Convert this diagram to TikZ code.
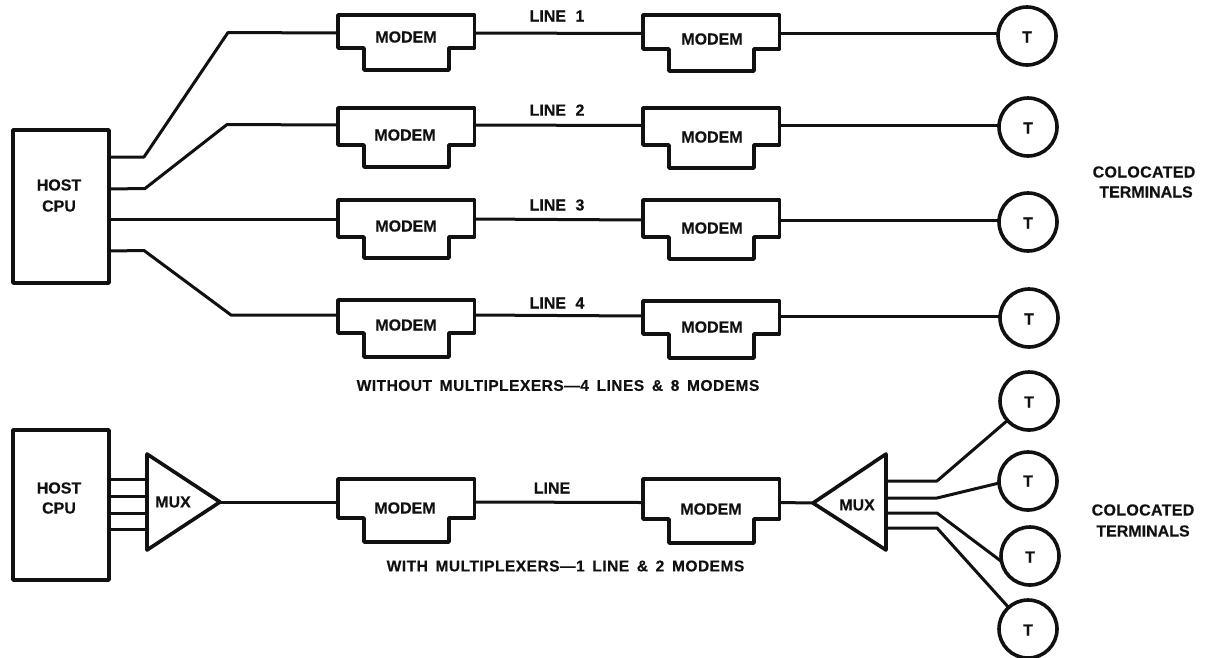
\documentclass[tikz,border=0pt]{standalone}
\usepackage{fontspec}
\setmainfont[BoldFeatures={FakeBold=0.25}]{Liberation Sans}
\newfontfamily\spacedfont[LetterSpace=3.0,WordSpace=1.6,BoldFeatures={FakeBold=0.25}]{Liberation Sans}
\usetikzlibrary{calc}
\definecolor{ink}{HTML}{111111}
\tikzset{
  ink line/.style={draw=ink,line width=3pt,line join=round,line cap=round},
  shape line/.style={draw=ink,line width=3.6pt,line join=round,line cap=round},
  lbl/.style={inner sep=0pt,outer sep=0pt,text=ink,font=\fontsize{16}{18}\selectfont\bfseries,anchor=center},
  captxt/.style={inner sep=0pt,outer sep=0pt,text=ink,font=\fontsize{15.55}{17}\selectfont\spacedfont\bfseries,anchor=center},
  term/.style={circle,shape line,minimum size=58pt,inner sep=0pt,outer sep=0pt},
  hostbox/.style={rectangle,shape line,minimum width=96pt,minimum height=#1,inner sep=0pt,outer sep=0pt},
}
% name, left x, top, shoulder, bottom, line y, text x, text y
\newcommand{\mdm}[8]{%
  \pgfmathsetmacro{\xa}{#2}\pgfmathsetmacro{\xb}{#2+26}\pgfmathsetmacro{\xc}{#2+111}\pgfmathsetmacro{\xd}{#2+136.5}%
  \draw[shape line] (\xa,#3) -- (\xd,#3) -- (\xd,#4) -- (\xc,#4) -- (\xc,#5) -- (\xb,#5) -- (\xb,#4) -- (\xa,#4) -- cycle;
  \node[lbl] (#1) at (#7,#8) {MODEM};
  \coordinate (#1-w) at (\xa,#6);
  \coordinate (#1-e) at (\xd,#6);
}
\begin{document}
\begin{tikzpicture}[x=1pt,y=-1pt]
\useasboundingbox (0,0) rectangle (1206,657);
\fill[white] (0,0) rectangle (1206,657);

% Top: host
\node[hostbox=153pt] (h1) at (61,206.5) {};
\node[lbl] (h1a) at (59,185) {HOST};
\node[lbl] (h1b) at (59,206) {CPU};

% Top: modems
\mdm{a1}{338}{15}{48}{70}{33}{406}{37}
\mdm{a2}{338}{108}{145}{167}{125}{405}{135}
\mdm{a3}{338}{200}{237}{258}{219}{406}{226}
\mdm{a4}{338}{300}{333}{357}{315}{406}{325}
\mdm{b1}{643}{15}{49}{71}{33.5}{712}{39}
\mdm{b2}{643}{108}{145}{168}{125.5}{712}{137}
\mdm{b3}{643}{200}{237}{259}{220}{712}{228}
\mdm{b4}{643}{301}{334}{358}{316}{712}{327}

% Top: terminals
\node[term] (t1) at (1027,36) {};  \node[lbl] at (1027,37) {T};
\node[term] (t2) at (1028,127) {}; \node[lbl] at (1028,128) {T};
\node[term] (t3) at (1028,222) {}; \node[lbl] at (1028,223) {T};
\node[term] (t4) at (1029,318) {}; \node[lbl] at (1029,319) {T};

% Top: connectors
\draw[ink line] (h1.east |- 0,157) -- (144,157) -- (228,32.5) -- (a1-w);
\draw[ink line] (h1.east |- 0,189) -- (145,188.5) -- (227,124.5) -- (a2-w);
\draw[ink line] (h1.east |- 0,219) -- (a3-w);
\draw[ink line] (h1.east |- 0,251) -- (144,250.5) -- (231,315) -- (a4-w);
\draw[ink line] (a1-e) -- (b1-w);
\draw[ink line] (a2-e) -- (b2-w);
\draw[ink line] (a3-e) -- (b3-w);
\draw[ink line] (a4-e) -- (b4-w);
\draw[ink line] (b1-e) -- (t1.west |- b1-e);
\draw[ink line] (b2-e) -- (t2.west |- b2-e);
\draw[ink line] (b3-e) -- (t3.west |- b3-e);
\draw[ink line] (b4-e) -- (t4.west |- b4-e);

% Top: labels
\node[lbl] (l1) at (557,16) {LINE\hspace{5pt} 1};
\node[lbl] (l2) at (557,110) {LINE\hspace{5pt} 2};
\node[lbl] (l3) at (557,205) {LINE\hspace{5pt} 3};
\node[lbl] (l4) at (557,303) {LINE\hspace{5pt} 4};
\node[captxt] (c1) at (558,385.5) {WITHOUT MULTIPLEXERS—4 LINES \& 8 MODEMS};
\node[lbl] (k1) at (1144,172) {\addfontfeature{LetterSpace=2}COLOCATED};
\node[lbl] (k2) at (1146,192) {TERMINALS};

% Bottom: host and mux
\node[hostbox=150pt] (h2) at (61,505) {};
\node[lbl] (h2a) at (59,488) {HOST};
\node[lbl] (h2b) at (59,508) {CPU};
\draw[shape line] (147,454) -- (147,550) -- (220,502) -- cycle;
\node[lbl] (mx1) at (173,502) {MUX};
\coordinate (mx1-w) at (147,502);
\coordinate (mx1-e) at (220,502);

\mdm{a5}{338}{479}{518}{542}{502}{405}{508}
\mdm{b5}{643}{479}{519}{543}{502.5}{711}{509}

\draw[shape line] (886,454) -- (886,550) -- (813,503) -- cycle;
\node[lbl] (mx2) at (857,505) {MUX};
\coordinate (mx2-w) at (813,503);
\coordinate (mx2-e) at (886,503);

\node[term] (t5) at (1029,401) {}; \node[lbl] at (1029,402) {T};
\node[term] (t6) at (1028,481) {}; \node[lbl] at (1028,481) {T};
\node[term] (t7) at (1030,556) {}; \node[lbl] at (1030,557) {T};
\node[term] (t8) at (1028,629) {}; \node[lbl] at (1028,630) {T};

% Bottom: connectors
\foreach \yy in {479,496,513,529} \draw[ink line] (h2.east |- 0,\yy) -- (mx1-w |- 0,\yy);
\draw[ink line] (mx1-e) -- (a5-w);
\draw[ink line] (a5-e) -- (b5-w);
\draw[ink line] (b5-e) -- (mx2-w);
\draw[ink line] (mx2-e |- 0,481) -- (937,481) -- (t5.222);
\draw[ink line] (mx2-e |- 0,498) -- (937,498) -- (t6.184);
\draw[ink line] (mx2-e |- 0,513) -- (937,513) -- (t7.191);
\draw[ink line] (mx2-e |- 0,528) -- (937,528) -- (t8.132);

% Bottom: labels
\node[lbl] (l5) at (552,488) {LINE};
\node[captxt] (c2) at (565.5,566) {WITH MULTIPLEXERS—1 LINE \& 2 MODEMS};
\node[lbl] (k3) at (1143,510) {\addfontfeature{LetterSpace=2}COLOCATED};
\node[lbl] (k4) at (1143,531) {TERMINALS};
\end{tikzpicture}
\end{document}
